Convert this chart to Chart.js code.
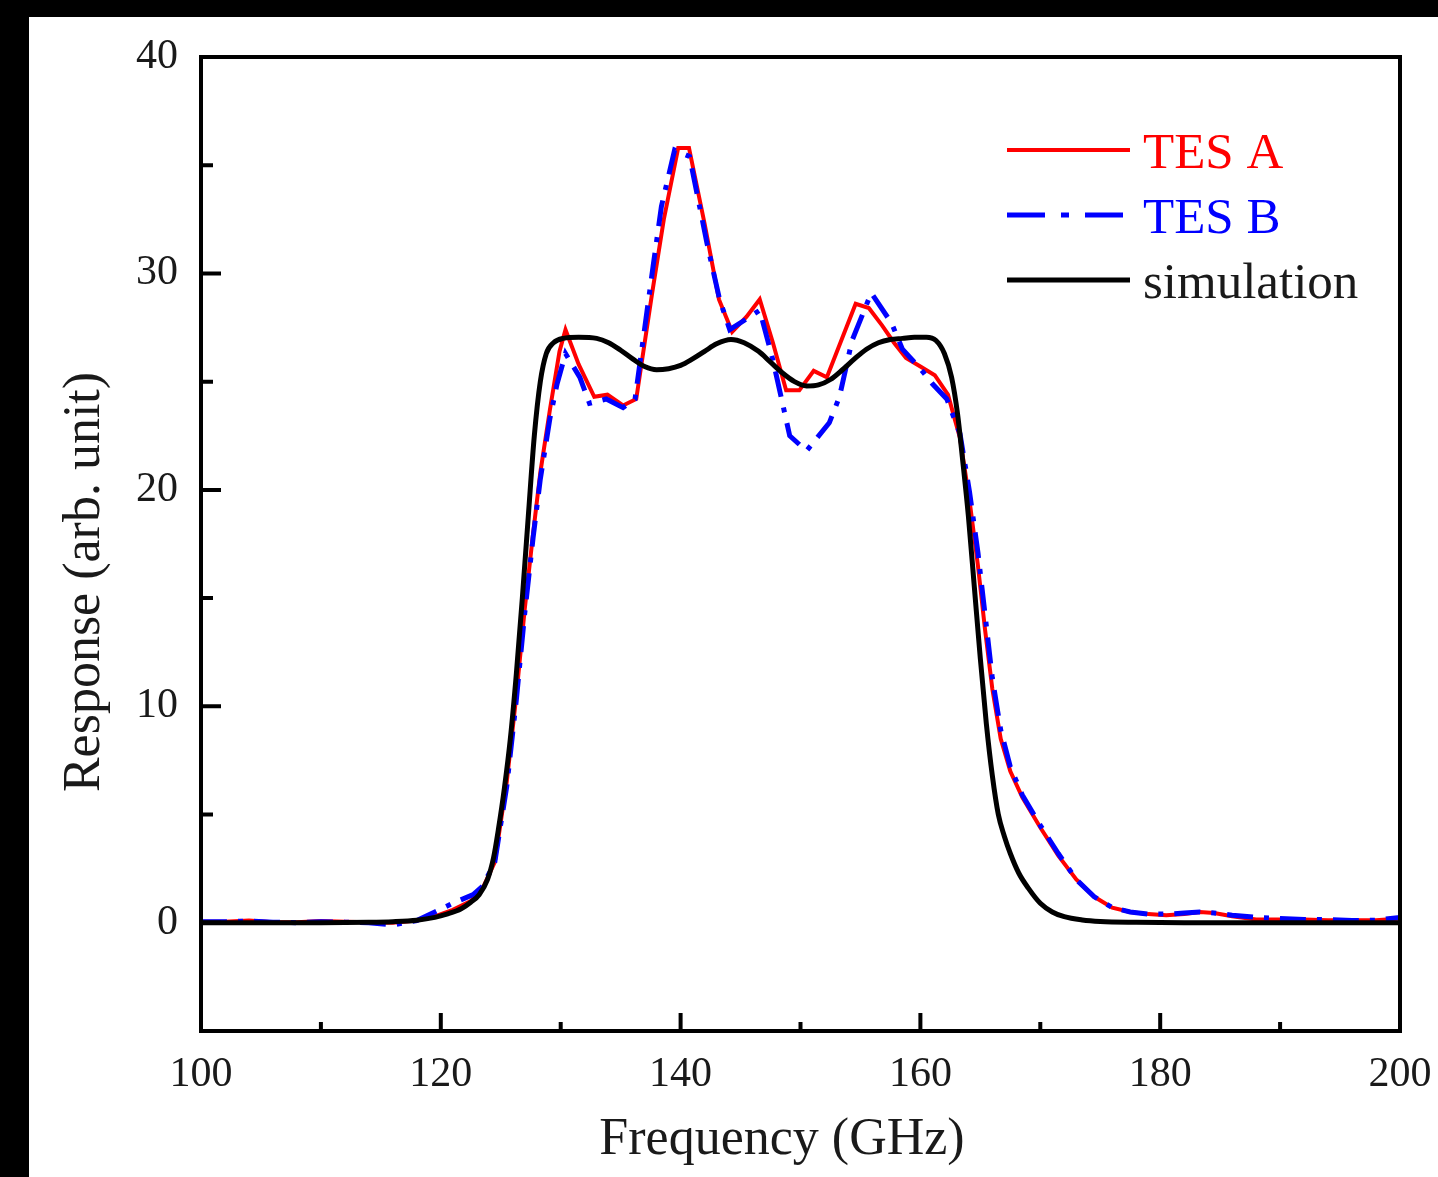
<!DOCTYPE html>
<html><head><meta charset="utf-8">
<script src="https://cdn.jsdelivr.net/npm/chart.js@4.4.0/dist/chart.umd.min.js"></script>
<style>
html,body{margin:0;padding:0;background:#000;width:1438px;height:1177px;overflow:hidden;}
#wrap{position:absolute;left:29px;top:17px;width:1409px;height:1160px;background:#fff;}
canvas{display:block;}
</style></head><body>
<div id="wrap"><canvas id="c" width="1409" height="1160"></canvas></div>
<script>
// ---- data ----
const freqA = [100,102,104,106,108,110,112,114,116,118,
  119.5,121,122.5,123.5,124.5,125.5,126.3,127,127.7,128.3,
  129.1,129.9,130.4,131.5,132.8,133.9,135.2,136.3,137.6,138.6,
  139.8,140.7,142,143.2,144.3,145.5,146.6,147.7,148.8,149.9,
  151.1,152.2,153.4,154.6,155.7,156.8,157.8,158.8,160,161.2,
  162.3,163.3,164.1,164.8,165.4,166,166.7,167.5,168.5,170,
  171.5,173,174.5,176,177.5,179,180.5,182,183.3,184.5,
  186,188,190,192,194,196,198,200];
const tesA = [0.05,0.05,0.1,0.03,0.03,0.08,0.05,0.03,0.0,0.1,
  0.3,0.6,1.0,1.6,2.8,6.5,10.5,14.5,18,20.8,
  23.7,26.4,27.4,25.8,24.3,24.4,23.9,24.2,29.0,32.5,
  35.8,35.8,32.3,28.8,27.3,28.0,28.8,26.8,24.6,24.6,
  25.5,25.2,26.9,28.6,28.4,27.6,26.8,26.1,25.7,25.3,
  24.4,22.4,19.5,16.5,13.5,10.8,8.5,7.0,5.8,4.4,
  3.1,2.0,1.2,0.7,0.5,0.4,0.35,0.4,0.5,0.45,
  0.3,0.15,0.15,0.15,0.12,0.12,0.12,0.2];

const freqB = [100,102,104,106,108,110,112,114,116,118,
  119.5,121,122.7,123.5,124.5,125.5,126.3,127,127.7,128.3,
  129.1,129.7,130.4,131.6,132.4,133.8,135.2,136.2,137.7,138.4,
  139.5,140.75,142.2,143.25,144.1,145.5,146.6,147.7,148.3,149.1,
  150.5,152.4,153.25,154.3,155.9,157.6,158.5,160,161,162.2,
  163.3,164.1,164.8,165.4,166,166.7,167.5,168.5,170,171.5,
  173,174.5,176,177.5,179,180.5,182,183.3,184.5,186,
  188,190,192,194,196,198,200];
const tesB = [0.05,0.05,0.08,0.03,0.0,0.05,0.03,0.0,-0.1,0.1,
  0.5,0.9,1.3,1.7,2.8,6.3,10.3,14.3,17.8,20.5,
  23.3,24.9,26.3,25.2,24.0,24.2,23.8,24.2,30.3,33.1,
  35.7,35.4,31.4,28.8,27.4,27.9,28.3,26.0,24.5,22.5,
  21.8,23.1,24.3,26.9,29.1,27.7,26.5,25.6,24.9,24.2,
  22.6,19.9,17.1,14.2,11.3,8.9,7.2,5.9,4.5,3.2,
  2.0,1.2,0.7,0.5,0.4,0.4,0.45,0.5,0.45,0.35,
  0.25,0.2,0.15,0.15,0.1,0.12,0.25];

const freqSim = [100,105,110,114,116,118,119.5,120.5,121.7,122.5,
  123.2,123.9,124.4,124.8,125.3,125.8,126.3,126.8,127.3,127.8,
  128.3,128.8,129.4,130.2,131.5,133,134,135,136,137,
  138,139,140,141,142,143,144.2,145.3,146.5,147.5,
  148.5,149.5,150.5,151.5,152.5,153.5,154.5,155.5,156.5,157.5,
  158.5,159.5,160.5,161.3,162,162.6,163.1,163.5,164,164.5,
  165,165.5,166,166.5,167,167.5,168.2,169,170,171,
  172,173.5,175,178,182,200];
const simulation = [0,0,0,0.02,0.05,0.12,0.25,0.4,0.65,0.95,
  1.3,2.0,3.0,4.3,6.2,8.5,11.5,15,18.8,22.5,
  25.0,26.3,26.8,27.0,27.05,27.0,26.8,26.45,26.05,25.7,
  25.55,25.6,25.75,26.05,26.4,26.75,26.95,26.8,26.4,25.9,
  25.4,25.0,24.8,24.85,25.1,25.55,26.05,26.5,26.8,26.95,
  27.0,27.05,27.05,26.9,26.3,25.2,23.5,21.5,18.8,15.5,
  12.2,9.2,6.8,5.0,4.0,3.2,2.3,1.6,0.9,0.5,
  0.28,0.13,0.06,0.02,0,0];

const seriesNames = ['TES A', 'TES B', 'simulation'];
const xMajorTicks = [100,120,140,160,180,200];
const xMinorTicks = [110,130,150,170,190];
const yMajorTicks = [0,10,20,30,40];
const yMinorTicks = [-5,5,15,25,35];
const xTitle = 'Frequency (GHz)';
const yTitle = 'Response (arb. unit)';

const pts = (xs, ys) => xs.map((v, i) => ({x: v, y: ys[i]}));
const SERIF = '"Liberation Serif", "Times New Roman", serif';

const frameTicks = {
  id: 'frameTicks',
  afterDatasetsDraw(chart) {
    const {ctx, chartArea: a, scales: {x, y}} = chart;
    ctx.save();
    ctx.strokeStyle = '#000';
    ctx.lineWidth = 4;
    ctx.lineCap = 'butt';
    ctx.beginPath();
    xMajorTicks.forEach(v => { const p = x.getPixelForValue(v); ctx.moveTo(p, a.bottom); ctx.lineTo(p, a.bottom - 18); });
    xMinorTicks.forEach(v => { const p = x.getPixelForValue(v); ctx.moveTo(p, a.bottom); ctx.lineTo(p, a.bottom - 9); });
    yMajorTicks.forEach(v => { const p = y.getPixelForValue(v); ctx.moveTo(a.left, p); ctx.lineTo(a.left + 20, p); });
    yMinorTicks.forEach(v => { const p = y.getPixelForValue(v); ctx.moveTo(a.left, p); ctx.lineTo(a.left + 12, p); });
    ctx.stroke();
    ctx.lineJoin = 'miter';
    ctx.strokeRect(a.left, a.top, a.right - a.left, a.bottom - a.top);
    ctx.restore();
  },
  afterDraw(chart) {
    const ctx = chart.ctx;
    ctx.save();
    ctx.fillStyle = '#1a1a1a';
    ctx.font = '52px ' + SERIF;
    ctx.textAlign = 'center';
    ctx.textBaseline = 'alphabetic';
    ctx.fillText(xTitle, 753, 1137);
    ctx.translate(70, 565);
    ctx.rotate(-Math.PI / 2);
    ctx.fillText(yTitle, 0, 0);
    ctx.restore();
    ctx.save();
    const rows = [133, 198, 263];
    chart.data.datasets.forEach((ds, i) => {
      const yy = rows[i];
      ctx.strokeStyle = ds.borderColor;
      ctx.lineWidth = ds.borderWidth;
      ctx.setLineDash(ds.legendDash || []);
      ctx.beginPath();
      ctx.moveTo(978, yy);
      ctx.lineTo(1101, yy);
      ctx.stroke();
      ctx.setLineDash([]);
      ctx.fillStyle = ds.legendText;
      ctx.font = '51px ' + SERIF;
      ctx.textAlign = 'left';
      ctx.textBaseline = 'alphabetic';
      ctx.fillText(ds.label, 1114, yy + 18);
    });
    ctx.restore();
  }
};

new Chart(document.getElementById('c'), {
  type: 'line',
  data: {
    datasets: [
      {label: seriesNames[0], data: pts(freqA, tesA), borderColor: '#ff0000', legendText: '#ff0000',
       borderWidth: 4, pointRadius: 0, tension: 0, order: 2},
      {label: seriesNames[1], data: pts(freqB, tesB), borderColor: '#0000ff', legendText: '#0000ff',
       borderWidth: 5, borderDash: [26, 11, 5, 11], legendDash: [38, 16, 8, 16], pointRadius: 0, tension: 0, order: 1},
      {label: seriesNames[2], data: pts(freqSim, simulation), borderColor: '#000000', legendText: '#1a1a1a',
       borderWidth: 5, pointRadius: 0, cubicInterpolationMode: 'monotone', order: 0}
    ]
  },
  options: {
    responsive: false,
    animation: false,
    devicePixelRatio: 1,
    layout: {padding: {left: 0, top: 40, right: 38, bottom: 0}},
    plugins: {legend: {display: false}, tooltip: {enabled: false}},
    scales: {
      x: {
        type: 'linear', min: 100, max: 200,
        afterBuildTicks: s => { s.ticks = xMajorTicks.map(v => ({value: v})); },
        afterFit: s => { s.height = 146; s.paddingLeft = 0; s.paddingRight = 0; s.paddingTop = 0; s.paddingBottom = 0; },
        grid: {display: false, drawTicks: false},
        border: {display: false},
        ticks: {font: {family: SERIF, size: 42}, color: '#1a1a1a', padding: 19, maxRotation: 0, autoSkip: false}
      },
      y: {
        type: 'linear', min: -5, max: 40,
        afterBuildTicks: s => { s.ticks = yMajorTicks.map(v => ({value: v})); },
        afterFit: s => { s.width = 172; s.paddingLeft = 0; s.paddingRight = 0; s.paddingTop = 0; s.paddingBottom = 0; },
        grid: {display: false, drawTicks: false},
        border: {display: false},
        ticks: {font: {family: SERIF, size: 42}, color: '#1a1a1a', padding: 23}
      }
    }
  },
  plugins: [frameTicks]
});
</script>
</body></html>
